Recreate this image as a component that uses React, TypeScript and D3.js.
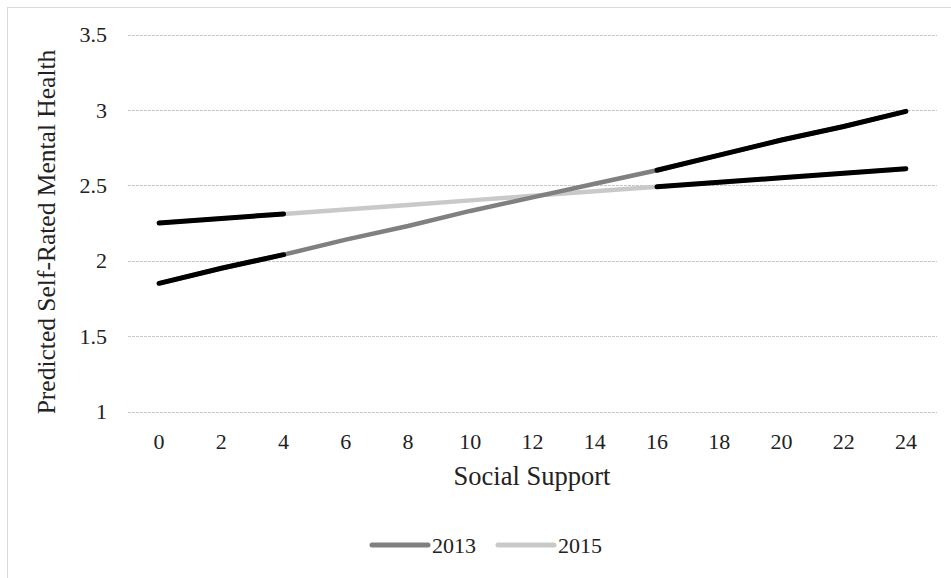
import React from "react";
import * as d3 from "d3";

const categories = [0, 2, 4, 6, 8, 10, 12, 14, 16, 18, 20, 22, 24];
const series2013 = [1.85, 1.95, 2.04, 2.14, 2.23, 2.33, 2.42, 2.51, 2.6, 2.7, 2.8, 2.89, 2.99];
const series2015 = [2.25, 2.28, 2.31, 2.34, 2.37, 2.4, 2.43, 2.46, 2.49, 2.52, 2.55, 2.58, 2.61];
const yTicks = [1, 1.5, 2, 2.5, 3, 3.5];
const highlightRanges: [number, number][] = [[0, 4], [16, 24]];
const seriesNames = ["2013", "2015"];
const seriesColors = ["#808080", "#c9c9c9"];

const W = 951;
const H = 578;
const FONT = "'Liberation Serif', 'Times New Roman', serif";

export default function App() {
  const x = d3.scalePoint<number>().domain(categories).range([128, 937]).padding(0.5);
  const y = d3.scaleLinear().domain([1, 3.5]).range([411.5, 34.5]);
  const line = d3
    .line<{ c: number; v: number }>()
    .x((d) => x(d.c) as number)
    .y((d) => y(d.v));

  const allSeries = [series2013, series2015].map((vals) =>
    vals.map((v, i) => ({ c: categories[i], v }))
  );

  return (
    <svg
      width={W}
      height={H}
      style={{ position: "absolute", left: 0, top: 0, background: "#fff" }}
    >
      <rect x={7.5} y={7.5} width={W} height={H} fill="#fff" stroke="#d9d9d9" strokeWidth={1} />
      {yTicks.map((t) => (
        <g key={t}>
          <line
            x1={128}
            x2={937}
            y1={Math.round(y(t)) + 0.5}
            y2={Math.round(y(t)) + 0.5}
            stroke="#c8c8c8"
            strokeDasharray="3,1"
            strokeWidth={1}
          />
          <text
            x={107}
            y={y(t)}
            dy="0.35em"
            textAnchor="end"
            fontFamily={FONT}
            fontSize={22}
            fill="#222"
          >
            {String(t)}
          </text>
        </g>
      ))}
      {categories.map((c) => (
        <text
          key={c}
          x={x(c)}
          y={449}
          textAnchor="middle"
          fontFamily={FONT}
          fontSize={22}
          fill="#222"
        >
          {String(c)}
        </text>
      ))}
      <text x={532} y={485} textAnchor="middle" fontFamily={FONT} fontSize={26.5} fill="#222">
        Social Support
      </text>
      <text
        transform={`translate(55,232) rotate(-90)`}
        textAnchor="middle"
        fontFamily={FONT}
        fontSize={25.5}
        fill="#222"
      >
        Predicted Self-Rated Mental Health
      </text>
      {[1, 0].map((si) => (
        <path
          key={si}
          d={line(allSeries[si]) || ""}
          fill="none"
          stroke={seriesColors[si]}
          strokeWidth={4.5}
        />
      ))}
      {allSeries.map((s, si) =>
        highlightRanges.map(([a, b], ri) => (
          <path
            key={`${si}-${ri}`}
            d={line(s.filter((d) => d.c >= a && d.c <= b)) || ""}
            fill="none"
            stroke="#000"
            strokeWidth={5}
            strokeLinecap="round"
          />
        ))
      )}
      {seriesNames.map((n, i) => {
        const lx = i === 0 ? 372 : 498;
        return (
          <g key={n}>
            <line
              x1={lx}
              x2={lx + 56}
              y1={545}
              y2={545}
              stroke={seriesColors[i]}
              strokeWidth={5}
              strokeLinecap="round"
            />
            <text x={lx + 60} y={553} fontFamily={FONT} fontSize={22} fill="#222">
              {n}
            </text>
          </g>
        );
      })}
    </svg>
  );
}
